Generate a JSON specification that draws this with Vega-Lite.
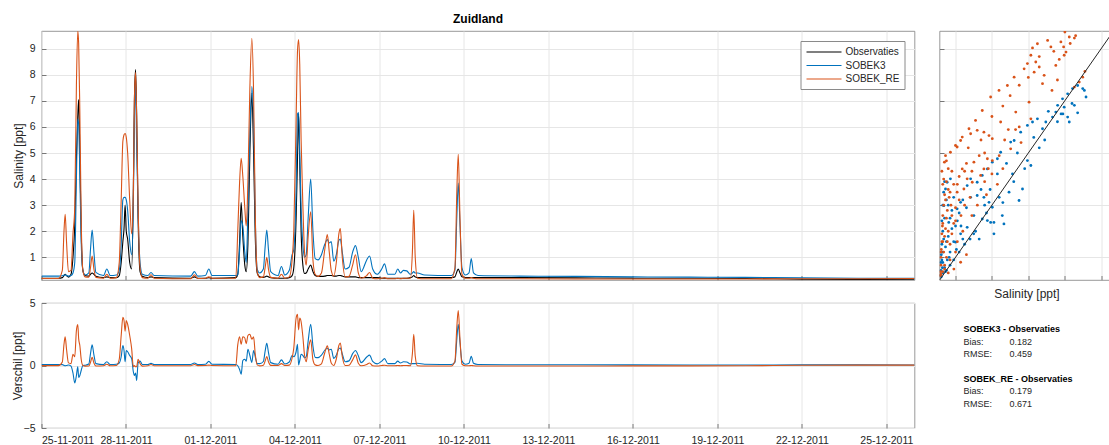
{
"$schema": "https://vega.github.io/schema/vega-lite/v6.json",
"padding": {"left": 10.5, "top": 12, "right": 0, "bottom": 0},
"config": {
  "font": "Liberation Sans",
  "view": {"stroke": "#7f7f7f", "strokeWidth": 0.8},
  "axis": {"domain": false, "grid": true, "gridColor": "#e6e6e6", "gridWidth": 1, "tickColor": "#5a5a5a", "tickSize": -4.5, "tickWidth": 0.8, "labelFont": "Liberation Sans", "labelFontSize": 10.5, "labelColor": "#262626", "labelPadding": 11, "titleFont": "Liberation Sans", "titleFontSize": 12, "titleFontWeight": "normal", "titleColor": "#262626", "titlePadding": 4},
  "title": {"font": "Liberation Sans", "color": "#000000"}
},
"datasets": {
"ts": [
{"t":"2011-11-25T00:00","Observaties":0.20,"SOBEK3":0.28,"SOBEK_RE":0.19,"dS3":0.08,"dRE":-0.01},
{"t":"2011-11-25T14:25","Observaties":0.20,"SOBEK3":0.28,"SOBEK_RE":0.19,"dS3":0.08,"dRE":-0.01},
{"t":"2011-11-25T17:45","Observaties":0.22,"SOBEK3":0.29,"SOBEK_RE":0.5,"dS3":0.07,"dRE":0.28},
{"t":"2011-11-25T19:10","Observaties":0.30,"SOBEK3":0.31,"SOBEK_RE":2.0,"dS3":0.01,"dRE":1.7},
{"t":"2011-11-25T20:10","Observaties":0.35,"SOBEK3":0.33,"SOBEK_RE":2.65,"dS3":-0.02,"dRE":2.3},
{"t":"2011-11-25T21:20","Observaties":0.30,"SOBEK3":0.30,"SOBEK_RE":1.6,"dS3":0.0,"dRE":1.3},
{"t":"2011-11-25T23:00","Observaties":0.24,"SOBEK3":0.28,"SOBEK_RE":0.45,"dS3":0.04,"dRE":0.21},
{"t":"2011-11-26T01:10","Observaties":0.35,"SOBEK3":0.30,"SOBEK_RE":0.5,"dS3":-0.05,"dRE":0.15},
{"t":"2011-11-26T02:50","Observaties":1.0,"SOBEK3":0.4,"SOBEK_RE":1.9,"dS3":-0.6,"dRE":0.9},
{"t":"2011-11-26T04:20","Observaties":2.2,"SOBEK3":0.8,"SOBEK_RE":2.9,"dS3":-1.4,"dRE":0.7},
{"t":"2011-11-26T05:45","Observaties":4.8,"SOBEK3":4.0,"SOBEK_RE":7.6,"dS3":-0.8,"dRE":2.8},
{"t":"2011-11-26T06:55","Observaties":6.4,"SOBEK3":6.3,"SOBEK_RE":9.68,"dS3":-0.1,"dRE":3.28},
{"t":"2011-11-26T07:40","Observaties":7.05,"SOBEK3":6.1,"SOBEK_RE":9.2,"dS3":-0.95,"dRE":2.15},
{"t":"2011-11-26T08:40","Observaties":5.0,"SOBEK3":4.2,"SOBEK_RE":6.6,"dS3":-0.8,"dRE":1.6},
{"t":"2011-11-26T09:50","Observaties":2.0,"SOBEK3":1.6,"SOBEK_RE":2.5,"dS3":-0.4,"dRE":0.5},
{"t":"2011-11-26T11:15","Observaties":0.5,"SOBEK3":0.5,"SOBEK_RE":0.5,"dS3":0.0,"dRE":0.0},
{"t":"2011-11-26T13:10","Observaties":0.30,"SOBEK3":0.32,"SOBEK_RE":0.25,"dS3":0.02,"dRE":-0.05},
{"t":"2011-11-26T16:20","Observaties":0.28,"SOBEK3":0.40,"SOBEK_RE":0.24,"dS3":0.12,"dRE":-0.04},
{"t":"2011-11-26T17:45","Observaties":0.35,"SOBEK3":1.3,"SOBEK_RE":0.6,"dS3":0.95,"dRE":0.25},
{"t":"2011-11-26T19:10","Observaties":0.40,"SOBEK3":2.05,"SOBEK_RE":1.05,"dS3":1.65,"dRE":0.65},
{"t":"2011-11-26T20:40","Observaties":0.35,"SOBEK3":1.2,"SOBEK_RE":0.55,"dS3":0.85,"dRE":0.2},
{"t":"2011-11-26T22:20","Observaties":0.27,"SOBEK3":0.42,"SOBEK_RE":0.23,"dS3":0.15,"dRE":-0.04},
{"t":"2011-11-27T04:50","Observaties":0.22,"SOBEK3":0.30,"SOBEK_RE":0.20,"dS3":0.08,"dRE":-0.02},
{"t":"2011-11-27T07:40","Observaties":0.25,"SOBEK3":0.55,"SOBEK_RE":0.35,"dS3":0.3,"dRE":0.1},
{"t":"2011-11-27T10:35","Observaties":0.22,"SOBEK3":0.30,"SOBEK_RE":0.20,"dS3":0.08,"dRE":-0.02},
{"t":"2011-11-27T15:50","Observaties":0.22,"SOBEK3":0.32,"SOBEK_RE":0.22,"dS3":0.1,"dRE":0.0},
{"t":"2011-11-27T18:15","Observaties":0.30,"SOBEK3":0.5,"SOBEK_RE":0.8,"dS3":0.2,"dRE":0.5},
{"t":"2011-11-27T19:55","Observaties":0.8,"SOBEK3":1.5,"SOBEK_RE":3.2,"dS3":0.7,"dRE":2.4},
{"t":"2011-11-27T21:20","Observaties":1.6,"SOBEK3":3.2,"SOBEK_RE":5.45,"dS3":1.6,"dRE":3.85},
{"t":"2011-11-27T22:20","Observaties":2.1,"SOBEK3":3.3,"SOBEK_RE":5.7,"dS3":1.2,"dRE":3.6},
{"t":"2011-11-27T23:15","Observaties":3.0,"SOBEK3":3.3,"SOBEK_RE":5.75,"dS3":0.3,"dRE":2.75},
{"t":"2011-11-28T00:15","Observaties":2.0,"SOBEK3":3.2,"SOBEK_RE":5.6,"dS3":1.2,"dRE":3.6},
{"t":"2011-11-28T01:25","Observaties":1.7,"SOBEK3":2.8,"SOBEK_RE":5.0,"dS3":1.1,"dRE":3.3},
{"t":"2011-11-28T03:10","Observaties":0.8,"SOBEK3":1.6,"SOBEK_RE":3.2,"dS3":0.8,"dRE":2.4},
{"t":"2011-11-28T04:50","Observaties":0.55,"SOBEK3":1.1,"SOBEK_RE":1.9,"dS3":0.55,"dRE":1.35},
{"t":"2011-11-28T06:15","Observaties":3.5,"SOBEK3":3.0,"SOBEK_RE":3.4,"dS3":-0.5,"dRE":-0.1},
{"t":"2011-11-28T07:10","Observaties":7.0,"SOBEK3":6.2,"SOBEK_RE":7.0,"dS3":-0.8,"dRE":0.0},
{"t":"2011-11-28T08:10","Observaties":8.2,"SOBEK3":7.6,"SOBEK_RE":8.1,"dS3":-0.6,"dRE":-0.1},
{"t":"2011-11-28T09:05","Observaties":6.5,"SOBEK3":5.3,"SOBEK_RE":6.4,"dS3":-1.2,"dRE":-0.1},
{"t":"2011-11-28T10:20","Observaties":2.5,"SOBEK3":2.7,"SOBEK_RE":3.0,"dS3":0.2,"dRE":0.5},
{"t":"2011-11-28T12:00","Observaties":0.45,"SOBEK3":0.8,"SOBEK_RE":0.6,"dS3":0.35,"dRE":0.15},
{"t":"2011-11-28T13:55","Observaties":0.27,"SOBEK3":0.35,"SOBEK_RE":0.22,"dS3":0.08,"dRE":-0.05},
{"t":"2011-11-28T18:40","Observaties":0.22,"SOBEK3":0.30,"SOBEK_RE":0.20,"dS3":0.08,"dRE":-0.02},
{"t":"2011-11-28T21:20","Observaties":0.25,"SOBEK3":0.42,"SOBEK_RE":0.33,"dS3":0.17,"dRE":0.08},
{"t":"2011-11-29T00:00","Observaties":0.22,"SOBEK3":0.30,"SOBEK_RE":0.20,"dS3":0.08,"dRE":-0.02},
{"t":"2011-11-30T07:10","Observaties":0.20,"SOBEK3":0.28,"SOBEK_RE":0.18,"dS3":0.08,"dRE":-0.02},
{"t":"2011-11-30T10:20","Observaties":0.25,"SOBEK3":0.45,"SOBEK_RE":0.33,"dS3":0.2,"dRE":0.08},
{"t":"2011-11-30T13:10","Observaties":0.20,"SOBEK3":0.28,"SOBEK_RE":0.19,"dS3":0.08,"dRE":-0.01},
{"t":"2011-11-30T19:40","Observaties":0.20,"SOBEK3":0.30,"SOBEK_RE":0.20,"dS3":0.1,"dRE":0.0},
{"t":"2011-11-30T22:35","Observaties":0.22,"SOBEK3":0.55,"SOBEK_RE":0.25,"dS3":0.33,"dRE":0.03},
{"t":"2011-12-01T01:25","Observaties":0.20,"SOBEK3":0.30,"SOBEK_RE":0.20,"dS3":0.1,"dRE":0.0},
{"t":"2011-12-01T21:35","Observaties":0.22,"SOBEK3":0.30,"SOBEK_RE":0.20,"dS3":0.08,"dRE":-0.02},
{"t":"2011-12-01T23:15","Observaties":0.35,"SOBEK3":0.33,"SOBEK_RE":2.0,"dS3":-0.02,"dRE":1.65},
{"t":"2011-12-02T00:45","Observaties":1.5,"SOBEK3":1.2,"SOBEK_RE":3.8,"dS3":-0.3,"dRE":2.3},
{"t":"2011-12-02T02:10","Observaties":3.1,"SOBEK3":2.4,"SOBEK_RE":4.8,"dS3":-0.7,"dRE":1.7},
{"t":"2011-12-02T03:35","Observaties":1.8,"SOBEK3":2.2,"SOBEK_RE":4.1,"dS3":0.4,"dRE":2.3},
{"t":"2011-12-02T05:15","Observaties":0.7,"SOBEK3":1.2,"SOBEK_RE":2.9,"dS3":0.5,"dRE":2.2},
{"t":"2011-12-02T06:30","Observaties":0.45,"SOBEK3":0.8,"SOBEK_RE":2.2,"dS3":0.35,"dRE":1.75},
{"t":"2011-12-02T07:55","Observaties":1.5,"SOBEK3":2.8,"SOBEK_RE":3.9,"dS3":1.3,"dRE":2.4},
{"t":"2011-12-02T09:35","Observaties":5.0,"SOBEK3":5.8,"SOBEK_RE":7.5,"dS3":0.8,"dRE":2.5},
{"t":"2011-12-02T11:15","Observaties":7.3,"SOBEK3":7.55,"SOBEK_RE":9.4,"dS3":0.25,"dRE":2.1},
{"t":"2011-12-02T12:45","Observaties":5.0,"SOBEK3":6.2,"SOBEK_RE":7.3,"dS3":1.2,"dRE":2.3},
{"t":"2011-12-02T14:10","Observaties":1.8,"SOBEK3":2.5,"SOBEK_RE":2.7,"dS3":0.7,"dRE":0.9},
{"t":"2011-12-02T15:50","Observaties":0.4,"SOBEK3":0.55,"SOBEK_RE":0.45,"dS3":0.15,"dRE":0.05},
{"t":"2011-12-02T18:00","Observaties":0.25,"SOBEK3":0.40,"SOBEK_RE":0.22,"dS3":0.15,"dRE":-0.03},
{"t":"2011-12-02T21:05","Observaties":0.23,"SOBEK3":0.55,"SOBEK_RE":0.25,"dS3":0.32,"dRE":0.02},
{"t":"2011-12-02T22:35","Observaties":0.25,"SOBEK3":1.4,"SOBEK_RE":0.6,"dS3":1.15,"dRE":0.35},
{"t":"2011-12-03T00:00","Observaties":0.28,"SOBEK3":2.05,"SOBEK_RE":1.0,"dS3":1.77,"dRE":0.72},
{"t":"2011-12-03T01:25","Observaties":0.25,"SOBEK3":1.3,"SOBEK_RE":0.55,"dS3":1.05,"dRE":0.3},
{"t":"2011-12-03T03:20","Observaties":0.22,"SOBEK3":0.45,"SOBEK_RE":0.23,"dS3":0.23,"dRE":0.01},
{"t":"2011-12-03T09:35","Observaties":0.20,"SOBEK3":0.30,"SOBEK_RE":0.20,"dS3":0.1,"dRE":0.0},
{"t":"2011-12-03T12:30","Observaties":0.20,"SOBEK3":0.65,"SOBEK_RE":0.35,"dS3":0.45,"dRE":0.15},
{"t":"2011-12-03T15:20","Observaties":0.20,"SOBEK3":0.32,"SOBEK_RE":0.20,"dS3":0.12,"dRE":0.0},
{"t":"2011-12-03T19:10","Observaties":0.22,"SOBEK3":0.5,"SOBEK_RE":0.25,"dS3":0.28,"dRE":0.03},
{"t":"2011-12-03T21:35","Observaties":0.30,"SOBEK3":1.1,"SOBEK_RE":0.9,"dS3":0.8,"dRE":0.6},
{"t":"2011-12-03T23:00","Observaties":0.6,"SOBEK3":1.3,"SOBEK_RE":2.0,"dS3":0.7,"dRE":1.4},
{"t":"2011-12-04T01:00","Observaties":2.5,"SOBEK3":3.6,"SOBEK_RE":6.3,"dS3":1.1,"dRE":3.8},
{"t":"2011-12-04T02:10","Observaties":4.8,"SOBEK3":6.5,"SOBEK_RE":8.9,"dS3":1.7,"dRE":4.1},
{"t":"2011-12-04T03:05","Observaties":6.5,"SOBEK3":6.55,"SOBEK_RE":9.35,"dS3":0.05,"dRE":2.85},
{"t":"2011-12-04T04:05","Observaties":4.6,"SOBEK3":5.0,"SOBEK_RE":8.4,"dS3":0.4,"dRE":3.8},
{"t":"2011-12-04T05:15","Observaties":2.0,"SOBEK3":2.9,"SOBEK_RE":5.5,"dS3":0.9,"dRE":3.5},
{"t":"2011-12-04T06:45","Observaties":0.7,"SOBEK3":1.5,"SOBEK_RE":3.0,"dS3":0.8,"dRE":2.3},
{"t":"2011-12-04T08:10","Observaties":0.38,"SOBEK3":1.0,"SOBEK_RE":1.2,"dS3":0.62,"dRE":0.82},
{"t":"2011-12-04T09:35","Observaties":0.4,"SOBEK3":1.1,"SOBEK_RE":0.7,"dS3":0.7,"dRE":0.3},
{"t":"2011-12-04T11:15","Observaties":0.55,"SOBEK3":2.5,"SOBEK_RE":1.8,"dS3":1.95,"dRE":1.25},
{"t":"2011-12-04T13:25","Observaties":0.7,"SOBEK3":4.0,"SOBEK_RE":2.75,"dS3":3.3,"dRE":2.05},
{"t":"2011-12-04T15:20","Observaties":0.45,"SOBEK3":2.0,"SOBEK_RE":0.9,"dS3":1.55,"dRE":0.45},
{"t":"2011-12-04T17:15","Observaties":0.30,"SOBEK3":0.95,"SOBEK_RE":0.35,"dS3":0.65,"dRE":0.05},
{"t":"2011-12-04T19:40","Observaties":0.27,"SOBEK3":0.9,"SOBEK_RE":0.27,"dS3":0.63,"dRE":0.0},
{"t":"2011-12-04T22:35","Observaties":0.27,"SOBEK3":1.1,"SOBEK_RE":0.4,"dS3":0.83,"dRE":0.13},
{"t":"2011-12-05T01:25","Observaties":0.28,"SOBEK3":1.5,"SOBEK_RE":1.3,"dS3":1.22,"dRE":1.02},
{"t":"2011-12-05T03:35","Observaties":0.30,"SOBEK3":1.68,"SOBEK_RE":1.87,"dS3":1.38,"dRE":1.57},
{"t":"2011-12-05T05:15","Observaties":0.30,"SOBEK3":1.55,"SOBEK_RE":1.2,"dS3":1.25,"dRE":0.9},
{"t":"2011-12-05T06:55","Observaties":0.30,"SOBEK3":1.6,"SOBEK_RE":0.5,"dS3":1.3,"dRE":0.2},
{"t":"2011-12-05T09:05","Observaties":0.28,"SOBEK3":0.85,"SOBEK_RE":0.28,"dS3":0.57,"dRE":0.0},
{"t":"2011-12-05T11:15","Observaties":0.28,"SOBEK3":1.1,"SOBEK_RE":0.8,"dS3":0.82,"dRE":0.52},
{"t":"2011-12-05T13:25","Observaties":0.30,"SOBEK3":1.65,"SOBEK_RE":1.9,"dS3":1.35,"dRE":1.6},
{"t":"2011-12-05T14:40","Observaties":0.30,"SOBEK3":1.7,"SOBEK_RE":2.1,"dS3":1.4,"dRE":1.8},
{"t":"2011-12-05T16:20","Observaties":0.28,"SOBEK3":1.2,"SOBEK_RE":1.0,"dS3":0.92,"dRE":0.72},
{"t":"2011-12-05T18:45","Observaties":0.25,"SOBEK3":0.55,"SOBEK_RE":0.25,"dS3":0.3,"dRE":0.0},
{"t":"2011-12-05T22:05","Observaties":0.25,"SOBEK3":0.62,"SOBEK_RE":0.27,"dS3":0.37,"dRE":0.02},
{"t":"2011-12-06T01:10","Observaties":0.25,"SOBEK3":1.2,"SOBEK_RE":0.7,"dS3":0.95,"dRE":0.45},
{"t":"2011-12-06T03:35","Observaties":0.25,"SOBEK3":1.45,"SOBEK_RE":1.1,"dS3":1.2,"dRE":0.85},
{"t":"2011-12-06T06:00","Observaties":0.22,"SOBEK3":1.0,"SOBEK_RE":0.4,"dS3":0.78,"dRE":0.18},
{"t":"2011-12-06T08:25","Observaties":0.22,"SOBEK3":0.45,"SOBEK_RE":0.20,"dS3":0.23,"dRE":-0.02},
{"t":"2011-12-06T13:10","Observaties":0.22,"SOBEK3":0.9,"SOBEK_RE":0.3,"dS3":0.68,"dRE":0.08},
{"t":"2011-12-06T15:35","Observaties":0.22,"SOBEK3":1.05,"SOBEK_RE":0.42,"dS3":0.83,"dRE":0.2},
{"t":"2011-12-06T18:15","Observaties":0.22,"SOBEK3":0.55,"SOBEK_RE":0.20,"dS3":0.33,"dRE":-0.02},
{"t":"2011-12-06T22:05","Observaties":0.22,"SOBEK3":0.35,"SOBEK_RE":0.18,"dS3":0.13,"dRE":-0.04},
{"t":"2011-12-07T01:55","Observaties":0.20,"SOBEK3":0.55,"SOBEK_RE":0.20,"dS3":0.35,"dRE":0.0},
{"t":"2011-12-07T04:20","Observaties":0.20,"SOBEK3":0.75,"SOBEK_RE":0.22,"dS3":0.55,"dRE":0.02},
{"t":"2011-12-07T07:10","Observaties":0.20,"SOBEK3":0.35,"SOBEK_RE":0.18,"dS3":0.15,"dRE":-0.02},
{"t":"2011-12-07T13:10","Observaties":0.20,"SOBEK3":0.35,"SOBEK_RE":0.18,"dS3":0.15,"dRE":-0.02},
{"t":"2011-12-07T15:35","Observaties":0.20,"SOBEK3":0.55,"SOBEK_RE":0.20,"dS3":0.35,"dRE":0.0},
{"t":"2011-12-07T18:00","Observaties":0.20,"SOBEK3":0.40,"SOBEK_RE":0.18,"dS3":0.2,"dRE":-0.02},
{"t":"2011-12-07T20:25","Observaties":0.20,"SOBEK3":0.50,"SOBEK_RE":0.20,"dS3":0.3,"dRE":0.0},
{"t":"2011-12-07T23:15","Observaties":0.20,"SOBEK3":0.48,"SOBEK_RE":0.20,"dS3":0.28,"dRE":0.0},
{"t":"2011-12-08T02:25","Observaties":0.22,"SOBEK3":0.35,"SOBEK_RE":0.20,"dS3":0.13,"dRE":-0.02},
{"t":"2011-12-08T04:05","Observaties":0.25,"SOBEK3":0.40,"SOBEK_RE":1.2,"dS3":0.15,"dRE":0.95},
{"t":"2011-12-08T05:15","Observaties":0.30,"SOBEK3":0.45,"SOBEK_RE":2.8,"dS3":0.15,"dRE":2.5},
{"t":"2011-12-08T06:30","Observaties":0.25,"SOBEK3":0.40,"SOBEK_RE":1.0,"dS3":0.15,"dRE":0.75},
{"t":"2011-12-08T08:25","Observaties":0.22,"SOBEK3":0.40,"SOBEK_RE":0.20,"dS3":0.18,"dRE":-0.02},
{"t":"2011-12-08T14:25","Observaties":0.22,"SOBEK3":0.32,"SOBEK_RE":0.18,"dS3":0.1,"dRE":-0.04},
{"t":"2011-12-09T13:10","Observaties":0.22,"SOBEK3":0.30,"SOBEK_RE":0.18,"dS3":0.08,"dRE":-0.04},
{"t":"2011-12-09T16:20","Observaties":0.25,"SOBEK3":0.5,"SOBEK_RE":0.6,"dS3":0.25,"dRE":0.35},
{"t":"2011-12-09T18:00","Observaties":0.45,"SOBEK3":2.6,"SOBEK_RE":3.6,"dS3":2.15,"dRE":3.15},
{"t":"2011-12-09T19:10","Observaties":0.55,"SOBEK3":3.85,"SOBEK_RE":4.95,"dS3":3.3,"dRE":4.4},
{"t":"2011-12-09T20:40","Observaties":0.4,"SOBEK3":2.2,"SOBEK_RE":2.5,"dS3":1.8,"dRE":2.1},
{"t":"2011-12-09T22:20","Observaties":0.25,"SOBEK3":0.6,"SOBEK_RE":0.35,"dS3":0.35,"dRE":0.1},
{"t":"2011-12-10T01:10","Observaties":0.22,"SOBEK3":0.32,"SOBEK_RE":0.20,"dS3":0.1,"dRE":-0.02},
{"t":"2011-12-10T04:20","Observaties":0.22,"SOBEK3":0.40,"SOBEK_RE":0.20,"dS3":0.18,"dRE":-0.02},
{"t":"2011-12-10T06:15","Observaties":0.22,"SOBEK3":0.95,"SOBEK_RE":0.22,"dS3":0.73,"dRE":0.0},
{"t":"2011-12-10T08:10","Observaties":0.22,"SOBEK3":0.40,"SOBEK_RE":0.20,"dS3":0.18,"dRE":-0.02},
{"t":"2011-12-10T12:00","Observaties":0.22,"SOBEK3":0.30,"SOBEK_RE":0.18,"dS3":0.08,"dRE":-0.04},
{"t":"2011-12-12T00:00","Observaties":0.22,"SOBEK3":0.28,"SOBEK_RE":0.18,"dS3":0.06,"dRE":-0.04},
{"t":"2011-12-14T00:00","Observaties":0.21,"SOBEK3":0.27,"SOBEK_RE":0.17,"dS3":0.06,"dRE":-0.04},
{"t":"2011-12-16T00:00","Observaties":0.20,"SOBEK3":0.25,"SOBEK_RE":0.17,"dS3":0.05,"dRE":-0.03},
{"t":"2011-12-18T00:00","Observaties":0.20,"SOBEK3":0.24,"SOBEK_RE":0.17,"dS3":0.04,"dRE":-0.03},
{"t":"2011-12-20T00:00","Observaties":0.19,"SOBEK3":0.23,"SOBEK_RE":0.17,"dS3":0.04,"dRE":-0.02},
{"t":"2011-12-22T00:00","Observaties":0.16,"SOBEK3":0.21,"SOBEK_RE":0.18,"dS3":0.05,"dRE":0.02},
{"t":"2011-12-24T00:00","Observaties":0.15,"SOBEK3":0.20,"SOBEK_RE":0.18,"dS3":0.05,"dRE":0.03},
{"t":"2011-12-26T00:00","Observaties":0.16,"SOBEK3":0.20,"SOBEK_RE":0.19,"dS3":0.04,"dRE":0.03}
],
"sc": [
{"series":"SOBEK3","obs":8.08,"sim":7.4},{"series":"SOBEK3","obs":8.17,"sim":7.15},{"series":"SOBEK3","obs":7.99,"sim":7.47},{"series":"SOBEK3","obs":7.71,"sim":7.59},{"series":"SOBEK3","obs":7.43,"sim":7.47},{"series":"SOBEK3","obs":7.16,"sim":7.27},{"series":"SOBEK3","obs":6.88,"sim":7.08},{"series":"SOBEK3","obs":6.97,"sim":6.76},{"series":"SOBEK3","obs":6.61,"sim":6.83},{"series":"SOBEK3","obs":6.51,"sim":6.57},{"series":"SOBEK3","obs":6.33,"sim":6.38},{"series":"SOBEK3","obs":5.96,"sim":6.19},{"series":"SOBEK3","obs":5.78,"sim":5.93},{"series":"SOBEK3","obs":5.5,"sim":6.31},{"series":"SOBEK3","obs":5.23,"sim":6.19},{"series":"SOBEK3","obs":4.95,"sim":6.06},{"series":"SOBEK3","obs":4.58,"sim":5.8},{"series":"SOBEK3","obs":4.22,"sim":5.48},{"series":"SOBEK3","obs":4.03,"sim":5.42},{"series":"SOBEK3","obs":7.16,"sim":6.38},{"series":"SOBEK3","obs":7.71,"sim":6.54},{"series":"SOBEK3","obs":7.53,"sim":6.83},{"series":"SOBEK3","obs":7.25,"sim":6.19},{"series":"SOBEK3","obs":6.8,"sim":6.5},{"series":"SOBEK3","obs":5.9,"sim":5.5},{"series":"SOBEK3","obs":6.1,"sim":6.6},{"series":"SOBEK3","obs":5.6,"sim":5.2},
{"series":"SOBEK3","obs":5.14,"sim":4.52},{"series":"SOBEK3","obs":4.95,"sim":4.71},{"series":"SOBEK3","obs":4.68,"sim":3.62},{"series":"SOBEK3","obs":4.49,"sim":3.18},{"series":"SOBEK3","obs":3.94,"sim":3.5},{"series":"SOBEK3","obs":3.57,"sim":2.6},{"series":"SOBEK3","obs":3.66,"sim":2.28},{"series":"SOBEK3","obs":3.11,"sim":1.9},{"series":"SOBEK3","obs":2.93,"sim":2.34},{"series":"SOBEK3","obs":4.13,"sim":4.2},{"series":"SOBEK3","obs":3.48,"sim":5.03},{"series":"SOBEK3","obs":3.3,"sim":4.78},{"series":"SOBEK3","obs":3.02,"sim":4.65},{"series":"SOBEK3","obs":2.75,"sim":4.39},{"series":"SOBEK3","obs":2.47,"sim":4.14},{"series":"SOBEK3","obs":2.19,"sim":3.88},{"series":"SOBEK3","obs":1.83,"sim":4.01},{"series":"SOBEK3","obs":1.64,"sim":3.75},{"series":"SOBEK3","obs":3.8,"sim":4.6},{"series":"SOBEK3","obs":4.4,"sim":5.0},
{"series":"SOBEK3","obs":1.83,"sim":3.3},{"series":"SOBEK3","obs":2.19,"sim":3.37},{"series":"SOBEK3","obs":2.56,"sim":3.3},{"series":"SOBEK3","obs":2.84,"sim":3.11},{"series":"SOBEK3","obs":3.02,"sim":2.92},{"series":"SOBEK3","obs":1.28,"sim":3.11},{"series":"SOBEK3","obs":1.09,"sim":2.86},
{"series":"SOBEK3","obs":2.75,"sim":2.41},{"series":"SOBEK3","obs":3.11,"sim":2.34},{"series":"SOBEK3","obs":2.47,"sim":2.47},{"series":"SOBEK3","obs":2.01,"sim":2.6},{"series":"SOBEK3","obs":1.64,"sim":2.15},{"series":"SOBEK3","obs":1.28,"sim":1.9},{"series":"SOBEK3","obs":1.0,"sim":1.58},
{"series":"SOBEK3","obs":0.54,"sim":3.88},{"series":"SOBEK3","obs":0.72,"sim":4.01},{"series":"SOBEK3","obs":0.45,"sim":3.62},{"series":"SOBEK3","obs":0.36,"sim":2.98},{"series":"SOBEK3","obs":0.63,"sim":2.34},{"series":"SOBEK3","obs":0.3,"sim":2.0},{"series":"SOBEK3","obs":0.25,"sim":1.5},{"series":"SOBEK3","obs":0.22,"sim":1.1},{"series":"SOBEK3","obs":0.2,"sim":0.8},{"series":"SOBEK3","obs":0.2,"sim":0.5},{"series":"SOBEK3","obs":0.2,"sim":0.3},{"series":"SOBEK3","obs":0.4,"sim":2.5},{"series":"SOBEK3","obs":0.5,"sim":3.2},{"series":"SOBEK3","obs":0.35,"sim":1.7},{"series":"SOBEK3","obs":0.3,"sim":1.2},{"series":"SOBEK3","obs":0.45,"sim":1.4},{"series":"SOBEK3","obs":0.6,"sim":1.8},{"series":"SOBEK3","obs":0.8,"sim":2.1},{"series":"SOBEK3","obs":0.9,"sim":1.6},{"series":"SOBEK3","obs":0.7,"sim":1.2},{"series":"SOBEK3","obs":0.55,"sim":0.9},{"series":"SOBEK3","obs":0.4,"sim":0.6},{"series":"SOBEK3","obs":0.3,"sim":0.4},{"series":"SOBEK3","obs":0.8,"sim":2.8},{"series":"SOBEK3","obs":1.1,"sim":2.4},{"series":"SOBEK3","obs":1.3,"sim":2.2},{"series":"SOBEK3","obs":1.5,"sim":1.5},{"series":"SOBEK3","obs":1.2,"sim":1.2},{"series":"SOBEK3","obs":0.9,"sim":0.9},{"series":"SOBEK3","obs":0.7,"sim":0.7},{"series":"SOBEK3","obs":1.8,"sim":1.7},{"series":"SOBEK3","obs":2.1,"sim":2.0},{"series":"SOBEK3","obs":2.3,"sim":1.7},{"series":"SOBEK3","obs":2.6,"sim":3.0},{"series":"SOBEK3","obs":0.25,"sim":0.9},{"series":"SOBEK3","obs":0.28,"sim":0.6},{"series":"SOBEK3","obs":0.22,"sim":0.25},{"series":"SOBEK3","obs":0.5,"sim":0.5},
{"series":"SOBEK3","obs":0.3,"sim":3.0},{"series":"SOBEK3","obs":0.35,"sim":3.5},{"series":"SOBEK3","obs":0.4,"sim":3.9},{"series":"SOBEK3","obs":0.6,"sim":3.0},{"series":"SOBEK3","obs":0.7,"sim":2.5},{"series":"SOBEK3","obs":0.9,"sim":3.3},{"series":"SOBEK3","obs":1.0,"sim":2.2},{"series":"SOBEK3","obs":1.2,"sim":2.7},{"series":"SOBEK3","obs":1.4,"sim":3.2},{"series":"SOBEK3","obs":1.6,"sim":2.9},{"series":"SOBEK3","obs":2.4,"sim":3.6},{"series":"SOBEK3","obs":2.9,"sim":3.6},{"series":"SOBEK3","obs":3.3,"sim":4.2},{"series":"SOBEK3","obs":3.6,"sim":3.1},{"series":"SOBEK3","obs":4.2,"sim":3.9},{"series":"SOBEK3","obs":4.8,"sim":4.4},{"series":"SOBEK3","obs":5.3,"sim":5.6},{"series":"SOBEK3","obs":6.6,"sim":6.2},{"series":"SOBEK3","obs":6.9,"sim":6.5},{"series":"SOBEK3","obs":7.4,"sim":6.9},{"series":"SOBEK3","obs":0.25,"sim":2.4},{"series":"SOBEK3","obs":0.5,"sim":1.6},{"series":"SOBEK3","obs":0.65,"sim":1.0},{"series":"SOBEK3","obs":1.05,"sim":1.3},{"series":"SOBEK3","obs":1.4,"sim":1.7},{"series":"SOBEK3","obs":2.0,"sim":1.9},{"series":"SOBEK3","obs":2.7,"sim":2.7},{"series":"SOBEK3","obs":3.4,"sim":3.3},{"series":"SOBEK3","obs":0.3,"sim":0.8},{"series":"SOBEK3","obs":0.45,"sim":0.45},
{"series":"SOBEK_RE","obs":7.01,"sim":9.64},{"series":"SOBEK_RE","obs":7.25,"sim":9.45},{"series":"SOBEK_RE","obs":7.53,"sim":9.41},{"series":"SOBEK_RE","obs":6.79,"sim":9.26},{"series":"SOBEK_RE","obs":6.94,"sim":9.07},{"series":"SOBEK_RE","obs":7.07,"sim":8.87},{"series":"SOBEK_RE","obs":6.97,"sim":8.75},{"series":"SOBEK_RE","obs":6.7,"sim":8.59},{"series":"SOBEK_RE","obs":6.51,"sim":8.36},{"series":"SOBEK_RE","obs":6.24,"sim":9.07},{"series":"SOBEK_RE","obs":6.06,"sim":9.32},{"series":"SOBEK_RE","obs":5.5,"sim":9.19},{"series":"SOBEK_RE","obs":5.23,"sim":9.03},{"series":"SOBEK_RE","obs":5.14,"sim":8.75},{"series":"SOBEK_RE","obs":5.41,"sim":8.49},{"series":"SOBEK_RE","obs":5.6,"sim":8.3},{"series":"SOBEK_RE","obs":5.32,"sim":8.1},{"series":"SOBEK_RE","obs":5.87,"sim":7.98},{"series":"SOBEK_RE","obs":5.78,"sim":7.66},{"series":"SOBEK_RE","obs":4.95,"sim":8.43},{"series":"SOBEK_RE","obs":4.77,"sim":8.23},
{"series":"SOBEK_RE","obs":8.11,"sim":8.13},{"series":"SOBEK_RE","obs":7.99,"sim":7.91},{"series":"SOBEK_RE","obs":7.8,"sim":7.72},{"series":"SOBEK_RE","obs":7.53,"sim":7.53},
{"series":"SOBEK_RE","obs":4.22,"sim":7.91},{"series":"SOBEK_RE","obs":3.85,"sim":7.59},{"series":"SOBEK_RE","obs":3.39,"sim":7.4},{"series":"SOBEK_RE","obs":2.93,"sim":7.15},{"series":"SOBEK_RE","obs":2.47,"sim":6.63},{"series":"SOBEK_RE","obs":2.1,"sim":6.25},{"series":"SOBEK_RE","obs":1.74,"sim":5.93},{"series":"SOBEK_RE","obs":1.37,"sim":5.61},{"series":"SOBEK_RE","obs":1.0,"sim":5.29},{"series":"SOBEK_RE","obs":0.72,"sim":5.03},{"series":"SOBEK_RE","obs":0.45,"sim":4.9},{"series":"SOBEK_RE","obs":0.39,"sim":4.65},
{"series":"SOBEK_RE","obs":1.83,"sim":5.74},{"series":"SOBEK_RE","obs":2.19,"sim":5.87},{"series":"SOBEK_RE","obs":2.56,"sim":5.8},{"series":"SOBEK_RE","obs":2.84,"sim":5.67},{"series":"SOBEK_RE","obs":3.02,"sim":5.55},{"series":"SOBEK_RE","obs":1.28,"sim":5.48},{"series":"SOBEK_RE","obs":1.09,"sim":5.23},
{"series":"SOBEK_RE","obs":3.48,"sim":6.19},{"series":"SOBEK_RE","obs":4.31,"sim":6.57},{"series":"SOBEK_RE","obs":5.04,"sim":6.95},{"series":"SOBEK_RE","obs":5.14,"sim":6.31},{"series":"SOBEK_RE","obs":4.03,"sim":5.16},{"series":"SOBEK_RE","obs":2.75,"sim":4.78},{"series":"SOBEK_RE","obs":3.02,"sim":4.71},{"series":"SOBEK_RE","obs":2.56,"sim":4.39},{"series":"SOBEK_RE","obs":2.01,"sim":4.65},{"series":"SOBEK_RE","obs":2.38,"sim":4.14},{"series":"SOBEK_RE","obs":1.64,"sim":4.01},{"series":"SOBEK_RE","obs":1.92,"sim":3.88},{"series":"SOBEK_RE","obs":1.46,"sim":3.62},{"series":"SOBEK_RE","obs":1.09,"sim":3.5},{"series":"SOBEK_RE","obs":1.37,"sim":4.39},{"series":"SOBEK_RE","obs":2.3,"sim":4.9},{"series":"SOBEK_RE","obs":2.6,"sim":5.0},{"series":"SOBEK_RE","obs":1.6,"sim":4.6},{"series":"SOBEK_RE","obs":1.2,"sim":4.1},{"series":"SOBEK_RE","obs":0.9,"sim":3.8},{"series":"SOBEK_RE","obs":0.8,"sim":4.3},{"series":"SOBEK_RE","obs":0.6,"sim":4.4},{"series":"SOBEK_RE","obs":0.5,"sim":3.9},{"series":"SOBEK_RE","obs":0.4,"sim":3.4},{"series":"SOBEK_RE","obs":0.35,"sim":3.0},{"series":"SOBEK_RE","obs":0.3,"sim":2.6},{"series":"SOBEK_RE","obs":0.28,"sim":2.2},{"series":"SOBEK_RE","obs":0.25,"sim":1.9},{"series":"SOBEK_RE","obs":0.3,"sim":1.6},{"series":"SOBEK_RE","obs":0.22,"sim":1.3},{"series":"SOBEK_RE","obs":0.2,"sim":1.0},{"series":"SOBEK_RE","obs":0.2,"sim":0.7},{"series":"SOBEK_RE","obs":0.18,"sim":0.45},{"series":"SOBEK_RE","obs":0.17,"sim":0.3},{"series":"SOBEK_RE","obs":0.35,"sim":1.2},{"series":"SOBEK_RE","obs":0.45,"sim":2.1},{"series":"SOBEK_RE","obs":0.55,"sim":2.8},{"series":"SOBEK_RE","obs":0.65,"sim":3.3},{"series":"SOBEK_RE","obs":0.5,"sim":2.5},{"series":"SOBEK_RE","obs":0.4,"sim":1.8},{"series":"SOBEK_RE","obs":0.6,"sim":2.0},{"series":"SOBEK_RE","obs":0.8,"sim":2.6},{"series":"SOBEK_RE","obs":1.0,"sim":2.9},{"series":"SOBEK_RE","obs":0.9,"sim":2.3},{"series":"SOBEK_RE","obs":0.7,"sim":1.5},{"series":"SOBEK_RE","obs":0.5,"sim":1.0},{"series":"SOBEK_RE","obs":0.4,"sim":0.7},{"series":"SOBEK_RE","obs":0.3,"sim":0.45},{"series":"SOBEK_RE","obs":0.7,"sim":3.5},{"series":"SOBEK_RE","obs":0.75,"sim":3.0},{"series":"SOBEK_RE","obs":1.2,"sim":3.2},{"series":"SOBEK_RE","obs":1.5,"sim":3.0},{"series":"SOBEK_RE","obs":1.8,"sim":3.3},{"series":"SOBEK_RE","obs":1.1,"sim":1.6},{"series":"SOBEK_RE","obs":1.4,"sim":2.0},{"series":"SOBEK_RE","obs":1.9,"sim":2.6},{"series":"SOBEK_RE","obs":2.2,"sim":3.0},{"series":"SOBEK_RE","obs":2.7,"sim":3.4},{"series":"SOBEK_RE","obs":3.3,"sim":3.8},{"series":"SOBEK_RE","obs":4.5,"sim":6.0},{"series":"SOBEK_RE","obs":3.9,"sim":5.9},{"series":"SOBEK_RE","obs":4.6,"sim":5.4},{"series":"SOBEK_RE","obs":6.3,"sim":7.4},{"series":"SOBEK_RE","obs":6.6,"sim":7.8},{"series":"SOBEK_RE","obs":3.6,"sim":4.4},{"series":"SOBEK_RE","obs":0.91,"sim":0.55},{"series":"SOBEK_RE","obs":1.28,"sim":0.81},{"series":"SOBEK_RE","obs":1.6,"sim":1.1},{"series":"SOBEK_RE","obs":0.6,"sim":0.4},{"series":"SOBEK_RE","obs":2.6,"sim":3.9},{"series":"SOBEK_RE","obs":3.0,"sim":4.2},{"series":"SOBEK_RE","obs":3.4,"sim":4.9},
{"series":"SOBEK_RE","obs":0.25,"sim":4.3},{"series":"SOBEK_RE","obs":0.3,"sim":3.8},{"series":"SOBEK_RE","obs":0.35,"sim":4.0},{"series":"SOBEK_RE","obs":0.5,"sim":4.7},{"series":"SOBEK_RE","obs":0.6,"sim":3.6},{"series":"SOBEK_RE","obs":0.45,"sim":3.2},{"series":"SOBEK_RE","obs":0.3,"sim":2.3},{"series":"SOBEK_RE","obs":0.25,"sim":1.6},{"series":"SOBEK_RE","obs":0.2,"sim":1.2},{"series":"SOBEK_RE","obs":0.55,"sim":1.6},{"series":"SOBEK_RE","obs":0.8,"sim":1.9},{"series":"SOBEK_RE","obs":1.0,"sim":2.4},{"series":"SOBEK_RE","obs":1.3,"sim":2.6},{"series":"SOBEK_RE","obs":1.1,"sim":3.8},{"series":"SOBEK_RE","obs":1.5,"sim":4.3},{"series":"SOBEK_RE","obs":1.7,"sim":5.2},{"series":"SOBEK_RE","obs":2.4,"sim":5.5},{"series":"SOBEK_RE","obs":3.0,"sim":6.4},{"series":"SOBEK_RE","obs":3.6,"sim":6.8},{"series":"SOBEK_RE","obs":4.0,"sim":7.2},{"series":"SOBEK_RE","obs":4.5,"sim":7.6},{"series":"SOBEK_RE","obs":5.0,"sim":7.9},{"series":"SOBEK_RE","obs":5.6,"sim":8.7},{"series":"SOBEK_RE","obs":6.4,"sim":8.9},{"series":"SOBEK_RE","obs":7.3,"sim":9.2},{"series":"SOBEK_RE","obs":7.6,"sim":9.5},{"series":"SOBEK_RE","obs":1.9,"sim":4.3},{"series":"SOBEK_RE","obs":2.8,"sim":4.4},{"series":"SOBEK_RE","obs":3.7,"sim":5.5},{"series":"SOBEK_RE","obs":4.3,"sim":5.9},{"series":"SOBEK_RE","obs":0.2,"sim":0.35},{"series":"SOBEK_RE","obs":0.4,"sim":0.55},{"series":"SOBEK_RE","obs":0.7,"sim":0.9},{"series":"SOBEK_RE","obs":1.0,"sim":1.2}
],
"diag": [{"v":0.12},{"v":9.68}],
"stats": [
{"line":0,"col":0,"text":"SOBEK3 - Observaties","kind":"header"},
{"line":1,"col":0,"text":"Bias:","kind":"label"},
{"line":1,"col":1,"text":"0.182","kind":"value"},
{"line":2,"col":0,"text":"RMSE:","kind":"label"},
{"line":2,"col":1,"text":"0.459","kind":"value"},
{"line":4,"col":0,"text":"SOBEK_RE - Observaties","kind":"header"},
{"line":5,"col":0,"text":"Bias:","kind":"label"},
{"line":5,"col":1,"text":"0.179","kind":"value"},
{"line":6,"col":0,"text":"RMSE:","kind":"label"},
{"line":6,"col":1,"text":"0.671","kind":"value"}
]
},
"columns": 2,
"spacing": {"column": 23, "row": -3},
"resolve": {"scale": {"color": "independent"}, "legend": {"color": "independent"}},
"concat": [
{
  "width": 873, "height": 249,
  "title": {"text": "Zuidland", "fontSize": 12, "fontWeight": "bold", "offset": 5, "anchor": "middle"},
  "data": {"name": "ts"},
  "transform": [{"fold": ["Observaties", "SOBEK3", "SOBEK_RE"], "as": ["series", "value"]}],
  "mark": {"type": "line", "strokeWidth": 1.1, "interpolate": "monotone", "clip": true},
  "encoding": {
    "x": {"field": "t", "type": "temporal",
      "scale": {"domain": [{"year": 2011, "month": 11, "date": 25}, {"year": 2011, "month": 12, "date": 26}]},
      "axis": {"title": null, "labels": false,
        "values": [{"year":2011,"month":11,"date":25},{"year":2011,"month":11,"date":28},{"year":2011,"month":12,"date":1},{"year":2011,"month":12,"date":4},{"year":2011,"month":12,"date":7},{"year":2011,"month":12,"date":10},{"year":2011,"month":12,"date":13},{"year":2011,"month":12,"date":16},{"year":2011,"month":12,"date":19},{"year":2011,"month":12,"date":22},{"year":2011,"month":12,"date":25}]}},
    "y": {"field": "value", "type": "quantitative",
      "scale": {"domain": [0.13, 9.68], "nice": false, "zero": false},
      "axis": {"title": "Salinity [ppt]", "values": [1,2,3,4,5,6,7,8,9]}},
    "color": {"field": "series", "type": "nominal",
      "scale": {"domain": ["Observaties", "SOBEK3", "SOBEK_RE"], "range": ["#000000", "#0072BD", "#D95319"]},
      "legend": {"title": null, "orient": "top-right", "offset": 10, "symbolType": "M-1,0H6", "symbolSize": 100, "symbolStrokeWidth": 1.1, "labelFontSize": 10, "labelColor": "#262626", "padding": 5, "rowPadding": 2.5, "labelOffset": 28, "strokeColor": "#8a8a8a", "fillColor": "#ffffff"}}
  }
},
{
  "width": 174, "height": 249,
  "layer": [
    {
      "data": {"name": "sc"},
      "mark": {"type": "circle", "size": 8, "opacity": 1, "clip": true},
      "encoding": {
        "x": {"field": "obs", "type": "quantitative", "scale": {"domain": [0.12, 9.68], "nice": false, "zero": false},
          "axis": {"title": "Salinity [ppt]", "labels": false, "values": [1,2,3,4,5,6,7,8,9], "titlePadding": 8}},
        "y": {"field": "sim", "type": "quantitative", "scale": {"domain": [0.13, 9.68], "nice": false, "zero": false},
          "axis": {"title": null, "labels": false, "values": [1,2,3,4,5,6,7,8,9]}},
        "color": {"field": "series", "type": "nominal", "scale": {"domain": ["SOBEK3", "SOBEK_RE"], "range": ["#0072BD", "#D95319"]}, "legend": null}
      }
    },
    {
      "data": {"name": "diag"},
      "mark": {"type": "line", "color": "#262626", "strokeWidth": 1, "clip": true},
      "encoding": {
        "x": {"field": "v", "type": "quantitative"},
        "y": {"field": "v", "type": "quantitative"}
      }
    }
  ]
},
{
  "width": 873, "height": 125,
  "data": {"name": "ts"},
  "transform": [{"fold": ["dS3", "dRE"], "as": ["series", "diff"]}],
  "mark": {"type": "line", "strokeWidth": 1.1, "interpolate": "monotone", "clip": true},
  "encoding": {
    "x": {"field": "t", "type": "temporal",
      "scale": {"domain": [{"year": 2011, "month": 11, "date": 25}, {"year": 2011, "month": 12, "date": 26}]},
      "axis": {"title": null, "format": "%d-%m-%Y", "labelPadding": 11.5,
        "values": [{"year":2011,"month":11,"date":25},{"year":2011,"month":11,"date":28},{"year":2011,"month":12,"date":1},{"year":2011,"month":12,"date":4},{"year":2011,"month":12,"date":7},{"year":2011,"month":12,"date":10},{"year":2011,"month":12,"date":13},{"year":2011,"month":12,"date":16},{"year":2011,"month":12,"date":19},{"year":2011,"month":12,"date":22},{"year":2011,"month":12,"date":25}]}},
    "y": {"field": "diff", "type": "quantitative",
      "scale": {"domain": [-5, 5], "nice": false, "zero": false},
      "axis": {"title": "Verschil [ppt]", "values": [-5, 0, 5], "titlePadding": -1}},
    "color": {"field": "series", "type": "nominal",
      "scale": {"domain": ["dS3", "dRE"], "range": ["#0072BD", "#D95319"]}, "legend": null}
  }
},
{
  "width": 171, "height": 125,
  "view": {"stroke": null},
  "data": {"name": "stats"},
  "layer": [
    {
      "transform": [{"filter": "datum.kind === 'header'"}],
      "mark": {"type": "text", "align": "left", "baseline": "middle", "fontSize": 9, "fontWeight": "bold", "color": "#000000"},
      "encoding": {
        "x": {"field": "col", "type": "quantitative", "scale": {"domain": [-0.5217, 3.1957], "nice": false, "zero": false}, "axis": null},
        "y": {"field": "line", "type": "quantitative", "scale": {"domain": [-2.121, 7.96], "nice": false, "zero": false, "reverse": true}, "axis": null},
        "text": {"field": "text"}
      }
    },
    {
      "transform": [{"filter": "datum.kind !== 'header'"}],
      "mark": {"type": "text", "align": "left", "baseline": "middle", "fontSize": 9, "color": "#262626"},
      "encoding": {
        "x": {"field": "col", "type": "quantitative", "axis": null},
        "y": {"field": "line", "type": "quantitative", "axis": null},
        "text": {"field": "text"}
      }
    }
  ]
}
]
}
